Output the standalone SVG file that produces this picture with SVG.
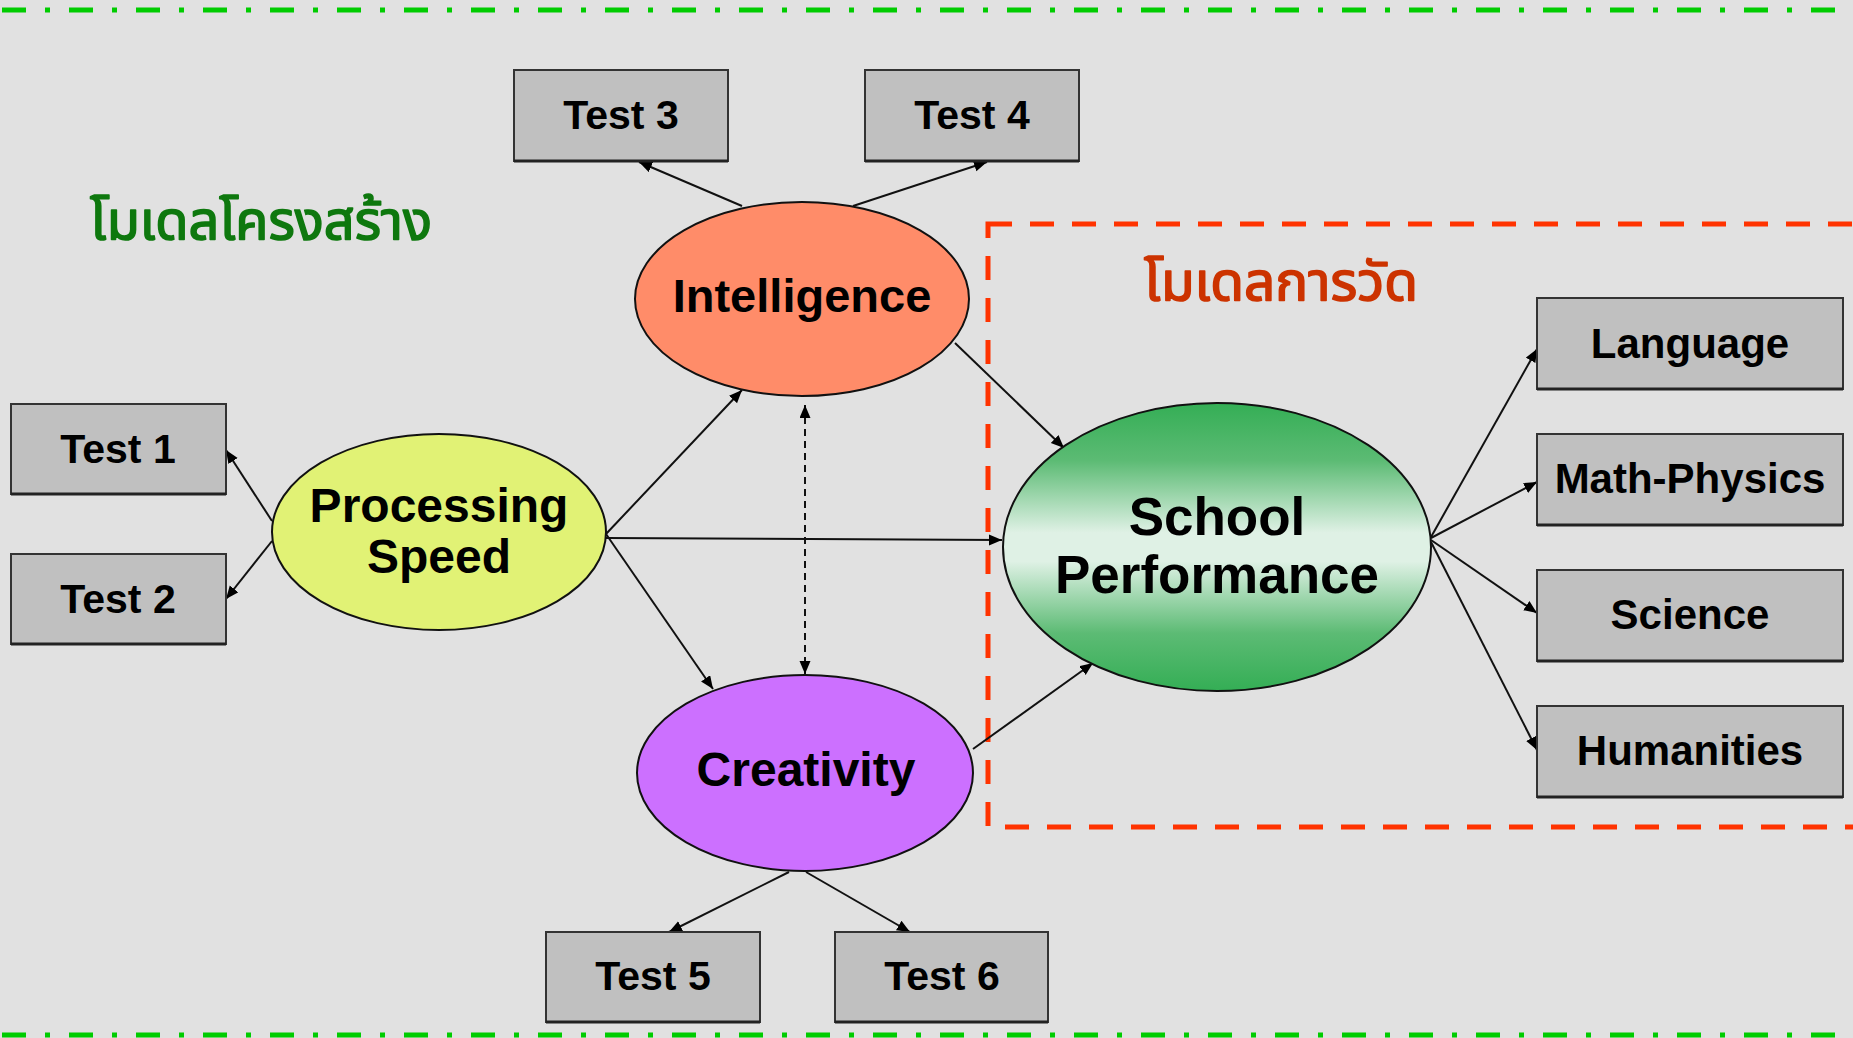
<svg xmlns="http://www.w3.org/2000/svg" width="1853" height="1038" viewBox="0 0 1853 1038">
<defs>
<style>
.box{fill:#C0C0C0;stroke:#333;stroke-width:2}
.sh{stroke:#222;stroke-width:3}
.bt{font-family:"Liberation Sans",Arial,sans-serif;font-weight:bold;fill:#000;text-anchor:middle}
.el{stroke:#111;stroke-width:2}
.cn{stroke:#111;stroke-width:2;fill:none}
.th{font-family:"Noto Sans Thai","Loma","Garuda","DejaVu Sans","Noto Sans",sans-serif;font-size:54px;stroke-width:1.6;stroke-linejoin:round}
</style>
<marker id="ah" markerUnits="userSpaceOnUse" markerWidth="14" markerHeight="12" refX="13" refY="5.5" orient="auto-start-reverse">
<path d="M0,0 L13,5.5 L0,11 Z" fill="#000"/>
</marker>
<linearGradient id="gsp" x1="0" y1="0" x2="0" y2="1">
<stop offset="0" stop-color="#34AE55"/>
<stop offset="0.2" stop-color="#5CBB74"/>
<stop offset="0.45" stop-color="#DFF1E5"/>
<stop offset="0.55" stop-color="#DFF1E5"/>
<stop offset="0.8" stop-color="#5CBB74"/>
<stop offset="1" stop-color="#34AE55"/>
</linearGradient>
</defs>
<rect x="0" y="0" width="1853" height="1038" fill="#E1E1E1"/>
<line x1="2" y1="10" x2="1853" y2="10" stroke="#00CC00" stroke-width="5" stroke-dasharray="24 19 5 19"/>
<line x1="2" y1="1035" x2="1853" y2="1035" stroke="#00CC00" stroke-width="5" stroke-dasharray="24 19 5 19"/>
<rect x="988" y="224" width="1000" height="603" fill="none" stroke="#FF3300" stroke-width="5" stroke-dasharray="24 18"/>
<text class="th" x="90" y="239" fill="#0E780E" stroke="#0E780E" textLength="342" lengthAdjust="spacingAndGlyphs">โมเดลโครงสร้าง</text>
<text class="th" x="1144" y="300" fill="#CC3300" stroke="#CC3300" textLength="274" lengthAdjust="spacingAndGlyphs">โมเดลการวัด</text>
<g id="connectors">
<line class="cn" x1="742" y1="206" x2="639" y2="162" marker-end="url(#ah)"/>
<line class="cn" x1="853" y1="206" x2="987" y2="162" marker-end="url(#ah)"/>
<line class="cn" x1="272" y1="521" x2="226" y2="450" marker-end="url(#ah)"/>
<line class="cn" x1="272" y1="541" x2="226" y2="599" marker-end="url(#ah)"/>
<line class="cn" x1="606" y1="534" x2="742" y2="390" marker-end="url(#ah)"/>
<line class="cn" x1="606" y1="538" x2="1002" y2="540" marker-end="url(#ah)"/>
<line class="cn" x1="606" y1="534" x2="713" y2="689" marker-end="url(#ah)"/>
<line class="cn" x1="955" y1="343" x2="1064" y2="448" marker-end="url(#ah)"/>
<line class="cn" x1="973" y1="749" x2="1093" y2="663" marker-end="url(#ah)"/>
<line class="cn" x1="805" y1="405" x2="805" y2="674" stroke-dasharray="7 5" marker-start="url(#ah)" marker-end="url(#ah)"/>
<line class="cn" x1="789" y1="872" x2="669" y2="932" marker-end="url(#ah)"/>
<line class="cn" x1="806" y1="872" x2="910" y2="932" marker-end="url(#ah)"/>
<line class="cn" x1="1431" y1="537" x2="1537" y2="349" marker-end="url(#ah)"/>
<line class="cn" x1="1431" y1="538" x2="1537" y2="482" marker-end="url(#ah)"/>
<line class="cn" x1="1431" y1="540" x2="1537" y2="613" marker-end="url(#ah)"/>
<line class="cn" x1="1431" y1="542" x2="1537" y2="750" marker-end="url(#ah)"/>
</g>
<g id="intelligence">
<ellipse class="el" cx="802" cy="299" rx="167" ry="97" fill="#FF8C69"/>
<text class="bt" x="802" y="312" font-size="47">Intelligence</text>
</g>
<g id="processing-speed">
<ellipse class="el" cx="439" cy="532" rx="167" ry="98" fill="#E1F275"/>
<text class="bt" x="439" y="522" font-size="48">Processing</text>
<text class="bt" x="439" y="573" font-size="48">Speed</text>
</g>
<g id="creativity">
<ellipse class="el" cx="805" cy="773" rx="168" ry="98" fill="#CC70FF"/>
<text class="bt" x="806" y="786" font-size="48">Creativity</text>
</g>
<g id="school-performance">
<ellipse class="el" cx="1217" cy="547" rx="214" ry="144" fill="url(#gsp)"/>
<text class="bt" x="1217" y="535" font-size="53">School</text>
<text class="bt" x="1217" y="593" font-size="53">Performance</text>
</g>
<g id="test1">
<rect class="box" x="11" y="404" width="215" height="90"/>
<line class="sh" x1="11" y1="494" x2="226" y2="494"/>
<text class="bt" x="118" y="463" font-size="41">Test 1</text>
</g>
<g id="test2">
<rect class="box" x="11" y="554" width="215" height="90"/>
<line class="sh" x1="11" y1="644" x2="226" y2="644"/>
<text class="bt" x="118" y="613" font-size="41">Test 2</text>
</g>
<g id="test3">
<rect class="box" x="514" y="70" width="214" height="91"/>
<line class="sh" x1="514" y1="161" x2="728" y2="161"/>
<text class="bt" x="621" y="129" font-size="41">Test 3</text>
</g>
<g id="test4">
<rect class="box" x="865" y="70" width="214" height="91"/>
<line class="sh" x1="865" y1="161" x2="1079" y2="161"/>
<text class="bt" x="972" y="129" font-size="41">Test 4</text>
</g>
<g id="test5">
<rect class="box" x="546" y="932" width="214" height="90"/>
<line class="sh" x1="546" y1="1022" x2="760" y2="1022"/>
<text class="bt" x="653" y="990" font-size="41">Test 5</text>
</g>
<g id="test6">
<rect class="box" x="835" y="932" width="213" height="90"/>
<line class="sh" x1="835" y1="1022" x2="1048" y2="1022"/>
<text class="bt" x="942" y="990" font-size="41">Test 6</text>
</g>
<g id="language">
<rect class="box" x="1537" y="298" width="306" height="91"/>
<line class="sh" x1="1537" y1="389" x2="1843" y2="389"/>
<text class="bt" x="1690" y="358" font-size="42">Language</text>
</g>
<g id="math-physics">
<rect class="box" x="1537" y="434" width="306" height="91"/>
<line class="sh" x1="1537" y1="525" x2="1843" y2="525"/>
<text class="bt" x="1690" y="493" font-size="42">Math-Physics</text>
</g>
<g id="science">
<rect class="box" x="1537" y="570" width="306" height="91"/>
<line class="sh" x1="1537" y1="661" x2="1843" y2="661"/>
<text class="bt" x="1690" y="629" font-size="42">Science</text>
</g>
<g id="humanities">
<rect class="box" x="1537" y="706" width="306" height="91"/>
<line class="sh" x1="1537" y1="797" x2="1843" y2="797"/>
<text class="bt" x="1690" y="765" font-size="42">Humanities</text>
</g>
</svg>
